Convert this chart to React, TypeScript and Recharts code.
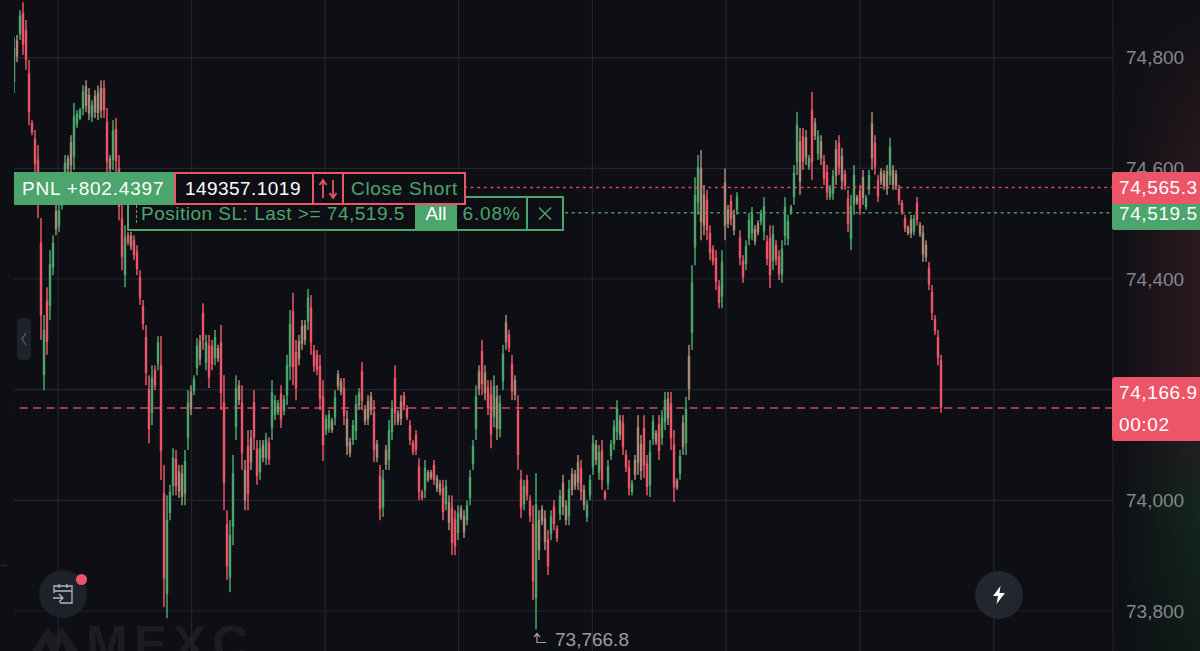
import * as React from 'react';
import { ComposedChart, CartesianGrid, XAxis, YAxis, Bar, ReferenceLine } from 'recharts';

// candles, oldest first
const highs = [
  74837,74841,74886,74900,74868,74796,74687,74669,74642,74510,
  74335,74385,74452,74479,74534,74534,74561,74624,74624,74660,
  74718,74705,74709,74750,74759,74745,74723,74741,74750,74759,
  74759,74709,74624,74687,74691,74624,74534,74497,74485,74485,
  74479,74461,74416,74362,74317,74226,74244,74244,74297,74297,
  74064,74009,74028,74094,74091,74064,74064,74091,74199,74208,
  74226,74293,74299,74356,74299,74299,74290,74308,74281,74317,
  74226,73982,73964,74082,74226,74217,74208,74073,74127,74127,
  74199,74109,74109,74109,74122,74114,74217,74190,74181,74208,
  74190,74263,74344,74375,74290,74299,74326,74326,74382,74371,
  74281,74272,74263,74217,74154,74163,74149,74199,74235,74221,
  74221,74163,74113,74145,74190,74203,74250,74172,74190,74196,
  74181,74109,74064,74055,74100,74145,74181,74244,74163,74190,
  74196,74172,74145,74109,74127,74076,74019,74073,74055,74055,
  74073,74046,74037,74037,74037,74009,74009,73982,73991,73991,
  73982,74000,74055,74109,74208,74244,74290,74244,74217,74217,
  74226,74208,74190,74281,74335,74308,74263,74226,74190,74055,
  74037,74046,74009,73991,74049,73982,73991,73982,73946,73982,
  74000,73955,74019,74046,74000,74037,74058,74055,74082,74073,
  74028,74000,74046,74118,74109,74100,74109,74019,74073,74109,
  74145,74181,74154,74154,74091,74073,74037,74082,74154,74118,
  74154,74082,74109,74154,74127,74154,74163,74196,74196,74196,
  74127,74040,74091,74154,74187,74281,74425,74584,74624,74633,
  74570,74561,74497,74461,74452,74398,74452,74600,74534,74552,
  74525,74557,74488,74443,74470,74519,74530,74497,74506,74525,
  74548,74479,74497,74497,74470,74452,74470,74548,74516,74534,
  74606,74702,74673,74673,74669,74624,74738,74691,74669,74660,
  74624,74606,74570,74597,74651,74660,74637,74597,74561,74552,
  74606,74552,74570,74597,74552,74597,74702,74660,74588,74600,
  74597,74606,74655,74606,74597,74570,74543,74516,74497,74516,
  74516,74548,74503,74497,74470,74431,74389,74335,74308,74263,
];
const lows = [
  74736,74792,74832,74805,74778,74678,74660,74593,74510,74290,
  74199,74263,74326,74407,74479,74485,74525,74552,74593,74593,
  74597,74673,74687,74696,74702,74687,74684,74691,74687,74691,
  74691,74588,74593,74597,74593,74506,74416,74385,74461,74452,
  74434,74407,74353,74308,74208,74103,74136,74199,74235,74037,
  73807,73787,73964,74009,74009,74004,73991,73991,74091,74154,
  74190,74226,74244,74272,74235,74203,74235,74244,74250,74163,
  73982,73856,73834,73919,74109,74172,74055,73982,73982,74055,
  74091,74028,74037,74069,74064,74064,74109,74145,74154,74131,
  74154,74172,74217,74208,74181,74244,74272,74281,74308,74263,
  74232,74226,74163,74071,74118,74122,74122,74136,74199,74190,
  74136,74082,74078,74100,74109,74163,74163,74136,74136,74154,
  74069,74069,73964,73970,74055,74055,74109,74136,74136,74136,
  74163,74145,74100,74082,74082,74000,74000,74004,74033,74037,
  74028,74015,74009,73964,73982,73946,73901,73901,73928,73964,
  73932,73955,73991,74055,74109,74190,74190,74181,74154,74094,
  74132,74109,74114,74199,74272,74268,74181,74181,74055,73968,
  73982,74000,73961,73820,73766.8,73892,73955,73910,73865,73928,
  73946,73925,73964,73973,73955,73955,74009,74019,74019,74000,
  73982,73961,74000,74046,74064,74037,74019,74000,74019,74073,
  74091,74109,74109,74082,74051,74009,74009,74037,74046,74037,
  74040,74009,74006,74100,74100,74073,74100,74127,74136,74091,
  73997,74019,74037,74082,74082,74181,74272,74425,74516,74470,
  74479,74470,74434,74425,74380,74347,74347,74470,74492,74497,
  74479,74516,74425,74393,74416,74461,74470,74461,74479,74497,
  74470,74425,74384,74416,74425,74398,74393,74461,74461,74516,
  74534,74588,74552,74597,74606,74597,74579,74651,74615,74606,
  74570,74543,74543,74543,74570,74588,74561,74561,74485,74452,
  74516,74534,74516,74534,74525,74552,74597,74588,74539,74570,
  74561,74552,74570,74561,74561,74534,74516,74485,74479,74474,
  74479,74497,74476,74431,74431,74380,74326,74299,74244,74158,
];
const opens = [
  74756,74831,74842,74881,74850,74772,74682,74654,74616,74466,
  74226,74361,74351,74421,74523,74495,74532,74566,74618,74647,
  74621,74679,74691,74707,74748,74733,74692,74731,74737,74745,
  74745,74685,74618,74615,74671,74600,74510,74407,74480,74478,
  74470,74450,74403,74351,74295,74201,74158,74235,74247,74245,
  74013,73831,73977,74026,74075,74052,74049,74011,74113,74197,
  74197,74239,74288,74339,74248,74280,74279,74257,74275,74286,
  74177,73957,73860,73952,74132,74208,74177,74055,74098,74113,
  74177,74093,74051,74101,74076,74104,74131,74154,74159,74193,
  74161,74190,74242,74342,74268,74288,74315,74317,74323,74349,
  74271,74263,74243,74188,74125,74130,74144,74149,74228,74215,
  74204,74147,74106,74109,74125,74171,74233,74165,74179,74188,
  74159,74101,74044,73987,74091,74073,74123,74222,74158,74179,
  74189,74167,74136,74104,74118,74061,74015,74018,74051,74051,
  74064,74040,74031,74022,73993,73996,73987,73966,73941,73986,
  73972,73964,74004,74066,74129,74233,74270,74231,74204,74192,
  74151,74188,74129,74215,74322,74300,74247,74217,74163,74038,
  73993,74037,73999,73957,73823,73964,73984,73968,73930,73939,
  73989,73949,73975,74031,73991,73971,74048,74048,74069,74058,
  74019,73969,74009,74060,74100,74050,74091,74015,74030,74080,
  74102,74123,74145,74140,74083,74060,74015,74073,74132,74102,
  74131,74067,74027,74111,74122,74138,74113,74141,74184,74175,
  74101,74036,74048,74140,74103,74261,74303,74457,74538,74600,
  74552,74543,74484,74454,74438,74388,74368,74574,74526,74541,
  74516,74524,74475,74433,74427,74473,74482,74490,74501,74503,
  74486,74468,74474,74432,74461,74441,74408,74478,74472,74520,
  74548,74611,74649,74658,74656,74602,74706,74683,74626,74649,
  74613,74593,74548,74554,74635,74646,74622,74590,74546,74472,
  74534,74548,74559,74584,74530,74561,74681,74646,74578,74594,
  74590,74595,74587,74597,74590,74563,74538,74510,74493,74508,
  74486,74538,74498,74484,74462,74421,74376,74328,74295,74253,
];
const closes = [
  74817,74802,74876,74824,74796,74702,74665,74608,74536,74334,
  74308,74287,74427,74465,74490,74524,74554,74610,74599,74606,
  74694,74699,74705,74739,74713,74699,74715,74701,74700,74705,
  74705,74612,74599,74669,74613,74530,74440,74475,74466,74459,
  74443,74418,74366,74319,74230,74128,74222,74208,74285,74089,
  73858,73965,74015,74077,74025,74016,74006,74071,74177,74165,
  74219,74280,74255,74289,74286,74222,74246,74295,74256,74194,
  74031,73881,73938,74049,74203,74181,74086,74000,74011,74069,
  74113,74044,74095,74077,74110,74074,74195,74181,74176,74146,
  74183,74245,74319,74241,74203,74255,74283,74290,74367,74285,
  74242,74235,74183,74100,74147,74155,74127,74186,74206,74196,
  74153,74098,74085,74136,74174,74195,74180,74143,74147,74162,
  74091,74077,73984,74038,74064,74127,74167,74158,74141,74147,
  74170,74150,74109,74087,74091,74015,74004,74059,74037,74041,
  74037,74021,74015,73979,74026,73959,73923,73917,73978,73969,
  73942,73991,74042,74098,74188,74201,74210,74194,74167,74119,
  74207,74129,74175,74265,74285,74276,74197,74190,74082,73985,
  74026,74009,73971,73854,73993,73910,73962,73924,73881,73971,
  73957,73931,74008,73988,73964,74021,74019,74026,74032,74015,
  73991,73992,74037,74104,74073,74087,74037,74004,74062,74102,
  74134,74167,74118,74096,74059,74022,74031,74046,74068,74053,
  74063,74024,74088,74143,74105,74089,74150,74182,74148,74112,
  74023,74023,74080,74096,74166,74201,74394,74552,74602,74503,
  74497,74488,74447,74432,74394,74357,74431,74496,74500,74508,
  74488,74549,74438,74403,74459,74507,74518,74468,74484,74519,
  74532,74436,74407,74481,74434,74409,74455,74531,74505,74530,
  74592,74679,74576,74612,74619,74619,74611,74659,74658,74617,
  74581,74556,74565,74586,74586,74602,74576,74568,74500,74532,
  74588,74538,74527,74547,74547,74588,74618,74602,74549,74576,
  74568,74563,74638,74570,74568,74541,74521,74491,74483,74482,
  74509,74507,74481,74444,74439,74390,74339,74306,74257,74166.9,
];
// bars where the picture smears a red and a green candle into one brown block
const blendedBars = [
  1,14,18,19,24,25,27,28,29,32,39,55,56,59,62,68,75,77,79,83,95,96,97,106,108,109,
  111,112,117,118,119,121,124,128,129,138,139,141,142,145,149,150,155,157,161,164,167,
  175,176,177,183,184,186,187,188,190,194,202,207,208,209,214,218,221,223,225,229,230,
  237,238,240,247,248,262,264,267,269,274,276,281,283,286,289,290,291,293,294,298,299,
  302,303,304,
];
const priceTicks = [73800, 74000, 74200, 74400, 74600, 74800];
const timeTicks = [14.67, 59.2, 103.7, 148.2, 192.8, 237.3, 282, 326.6];

const LAST_PRICE = 74166.9;
const ENTRY_PRICE = 74565.3;
const STOP_PRICE = 74519.5;

const RED = '#ec5567';
const GREEN = '#4ba56d';
const TAN = '#a98a78';
const BG = '#0e0f14';
const FONT = '"Liberation Sans", Arial, sans-serif';

const blendedSet = new Set(blendedBars);
const table = highs.map((high, i) => ({
  bar: i,
  high,
  low: lows[i],
  open: opens[i],
  close: closes[i],
  range: [lows[i], high],
}));

const Candle = (props: any) => {
  const { x, y, width, height, payload } = props;
  const unit = height / (payload.high - payload.low);
  const top = y + (payload.high - Math.max(payload.open, payload.close)) * unit;
  const bottom = y + (payload.high - Math.min(payload.open, payload.close)) * unit;
  let color = payload.close >= payload.open ? GREEN : RED;
  if (blendedSet.has(payload.bar)) color = TAN;
  const mid = x + width / 2;
  return (
    <g>
      <rect x={mid - 0.75} y={y} width={1.5} height={height} fill={color} />
      <rect x={mid - 1.2} y={top} width={2.4} height={bottom - top} fill={color} />
    </g>
  );
};

const box = (left: number, top: number, width: number, height: number, extra: React.CSSProperties = {}): React.CSSProperties => ({
  position: 'absolute',
  left,
  top,
  width,
  height,
  boxSizing: 'border-box',
  ...extra,
});

const tagText: React.CSSProperties = { color: '#fff', fontSize: 19, letterSpacing: 0.6, paddingLeft: 7, whiteSpace: 'nowrap' };

const App = () => {
  return (
    <div style={box(0, 0, 1200, 651, { background: BG, overflow: 'hidden', fontFamily: FONT, position: 'fixed' })}>
      {/* tint behind the price axis */}
      <div
        style={box(1113, 0, 87, 651, {
          background: `linear-gradient(to right, ${BG}, rgba(14,15,20,0)), linear-gradient(to bottom, #0f1014 0%, #2c1a20 30%, #2c1a20 60%, #14261d 78%, #0f1c17 100%)`,
        })}
      />
      {/* watermark */}
      <svg style={box(30, 624, 50, 27)} viewBox="0 0 50 27">
        <path d="M2 27 L18 3 L25 12 L32 3 L48 27 L36 27 L32 18 L27 27 L20 27 L16 18 L12 27 Z" fill="#1b1d23" />
      </svg>
      <div style={box(86, 619, 170, 50, { color: '#1b1d23', fontSize: 50, fontWeight: 700, lineHeight: '50px', letterSpacing: 6 })}>MEXC</div>

      <div style={{ position: 'absolute', left: 0, top: 0 }}>
        <ComposedChart width={1200} height={651} data={table} margin={{ top: 0, right: 0, bottom: 0, left: 14 }}>
          <CartesianGrid stroke="#23252d" strokeWidth={1.2} syncWithTicks />
          <XAxis type="number" dataKey="bar" domain={[0, 366.33]} ticks={timeTicks} hide height={0} allowDataOverflow />
          <YAxis
            orientation="right"
            width={87}
            domain={[73727.7, 74904.2]}
            ticks={priceTicks}
            interval={0}
            allowDataOverflow
            tickLine={false}
            tickMargin={7}
            axisLine={{ stroke: '#23252d' }}
            tick={{ fill: '#85878d', fontSize: 19, fontFamily: FONT }}
            tickFormatter={(v: number) => v.toLocaleString('en-US')}
          />
          <Bar dataKey="range" barSize={3} shape={<Candle />} isAnimationActive={false} />
          <ReferenceLine y={LAST_PRICE} stroke={RED} strokeOpacity={0.85} strokeWidth={1.5} strokeDasharray="8 5.4" />
          <ReferenceLine segment={[{ x: 150, y: ENTRY_PRICE }, { x: 366.33, y: ENTRY_PRICE }]} stroke={RED} strokeOpacity={0.85} strokeWidth={1.5} strokeDasharray="3 3.6" />
          <ReferenceLine segment={[{ x: 183.7, y: STOP_PRICE }, { x: 366.33, y: STOP_PRICE }]} stroke={GREEN} strokeOpacity={0.9} strokeWidth={1.5} strokeDasharray="3 3.6" />
        </ComposedChart>
      </div>

      {/* stop loss order bar */}
      <div style={box(127, 196, 437, 35, { border: `2px solid ${GREEN}`, background: BG })} />
      <div style={box(135.5, 205, 1, 18, { borderLeft: `1.5px dashed ${GREEN}` })} />
      <div style={box(141, 196, 270, 35, { color: GREEN, fontSize: 19, letterSpacing: 0.5, lineHeight: '35px', whiteSpace: 'nowrap' })}>Position SL: Last &gt;= 74,519.5</div>
      <div style={box(415, 196, 42, 35, { background: GREEN, color: '#fff', fontSize: 19, lineHeight: '35px', textAlign: 'center' })}>All</div>
      <div style={box(457, 196, 71, 35, { color: GREEN, fontSize: 19, letterSpacing: 0.8, lineHeight: '35px', textAlign: 'center', borderRight: `2px solid ${GREEN}` })}>6.08%</div>
      <svg style={box(537, 206, 16, 15)} viewBox="0 0 16 15">
        <path d="M2 1.5 L14 13.5 M14 1.5 L2 13.5" stroke={GREEN} strokeWidth={1.5} />
      </svg>

      {/* position bar */}
      <div style={box(14, 172, 160, 33, { background: GREEN, color: '#fff', fontSize: 19, letterSpacing: 0.8, lineHeight: '33px', paddingLeft: 8, whiteSpace: 'nowrap' })}>PNL +802.4397</div>
      <div style={box(174, 172, 140, 33, { background: BG, border: `2px solid ${RED}`, color: '#fff', fontSize: 19, letterSpacing: 0.45, lineHeight: '29px', paddingLeft: 9, whiteSpace: 'nowrap' })}>149357.1019</div>
      <div style={box(312, 172, 32, 33, { background: BG, border: `2px solid ${RED}` })}>
        <svg width="28" height="29" viewBox="0 0 28 29">
          <path d="M9 24 L9 7 M5.5 11 L9 6 L12.5 11 M19 6 L19 23 M15.5 19 L19 24 L22.5 19" stroke={RED} strokeWidth={1.8} fill="none" />
        </svg>
      </div>
      <div style={box(342, 172, 124, 33, { background: BG, border: `2px solid ${RED}`, color: GREEN, fontSize: 19, letterSpacing: 0.7, lineHeight: '29px', paddingLeft: 7, whiteSpace: 'nowrap' })}>Close Short</div>

      {/* price tags */}
      <div style={box(1112, 204, 88, 26, { ...tagText, background: GREEN, lineHeight: '19px', borderBottomLeftRadius: 2 })}>74,519.5</div>
      <div style={box(1112, 172, 88, 32, { ...tagText, background: RED, lineHeight: '31px', borderTopLeftRadius: 2 })}>74,565.3</div>
      <div style={box(1112, 377, 88, 64, { ...tagText, background: RED, lineHeight: '32px', borderRadius: '3px 0 0 3px' })}>
        74,166.9
        <br />
        00:02
      </div>

      {/* lowest price marker */}
      <svg style={box(533, 632, 14, 12)} viewBox="0 0 14 12">
        <path d="M4 11 L4 2 M1 5 L4 1.5 L7 5 M4 10.5 L13 10.5" stroke="#a0a2a7" strokeWidth={1.2} fill="none" />
      </svg>
      <div style={box(555, 629, 90, 22, { color: '#9a9ca2', fontSize: 19, lineHeight: '22px', whiteSpace: 'nowrap' })}>73,766.8</div>

      {/* left drawer handle */}
      <div style={box(17, 318, 14, 42, { background: '#1f222a', borderRadius: '5px' })} />
      <svg style={box(20, 332, 8, 14)} viewBox="0 0 8 14">
        <path d="M6 1 L2 7 L6 13" stroke="#5c5f68" strokeWidth={1.2} fill="none" />
      </svg>
      <div style={box(0, 565, 7, 1, { background: '#2a2c33' })} />

      {/* calendar button */}
      <div style={box(39, 570, 48, 48, { background: '#1e2129', borderRadius: '50%' })} />
      <svg style={box(52, 583, 22, 22)} viewBox="0 0 22 22">
        <path d="M2 10 L2 3 L20 3 L20 20 L8 20 M2 8 L20 8 M7 1 L7 5 M15 1 L15 5 M1 15 L11 15 M7 11 L11 15 L7 19" stroke="#b4b6bb" strokeWidth={1.3} fill="none" />
      </svg>
      <div style={box(75.5, 573.5, 11, 11, { background: RED, borderRadius: '50%' })} />

      {/* quick trade button */}
      <div style={box(975, 571, 48, 48, { background: '#23262e', borderRadius: '50%' })} />
      <svg style={box(991, 586, 16, 18)} viewBox="0 0 16 18">
        <path d="M9.5 0 L2 10 L7 10 L5.5 18 L14 7 L8.5 7 Z" fill="#ffffff" />
      </svg>
    </div>
  );
};

export default App;
